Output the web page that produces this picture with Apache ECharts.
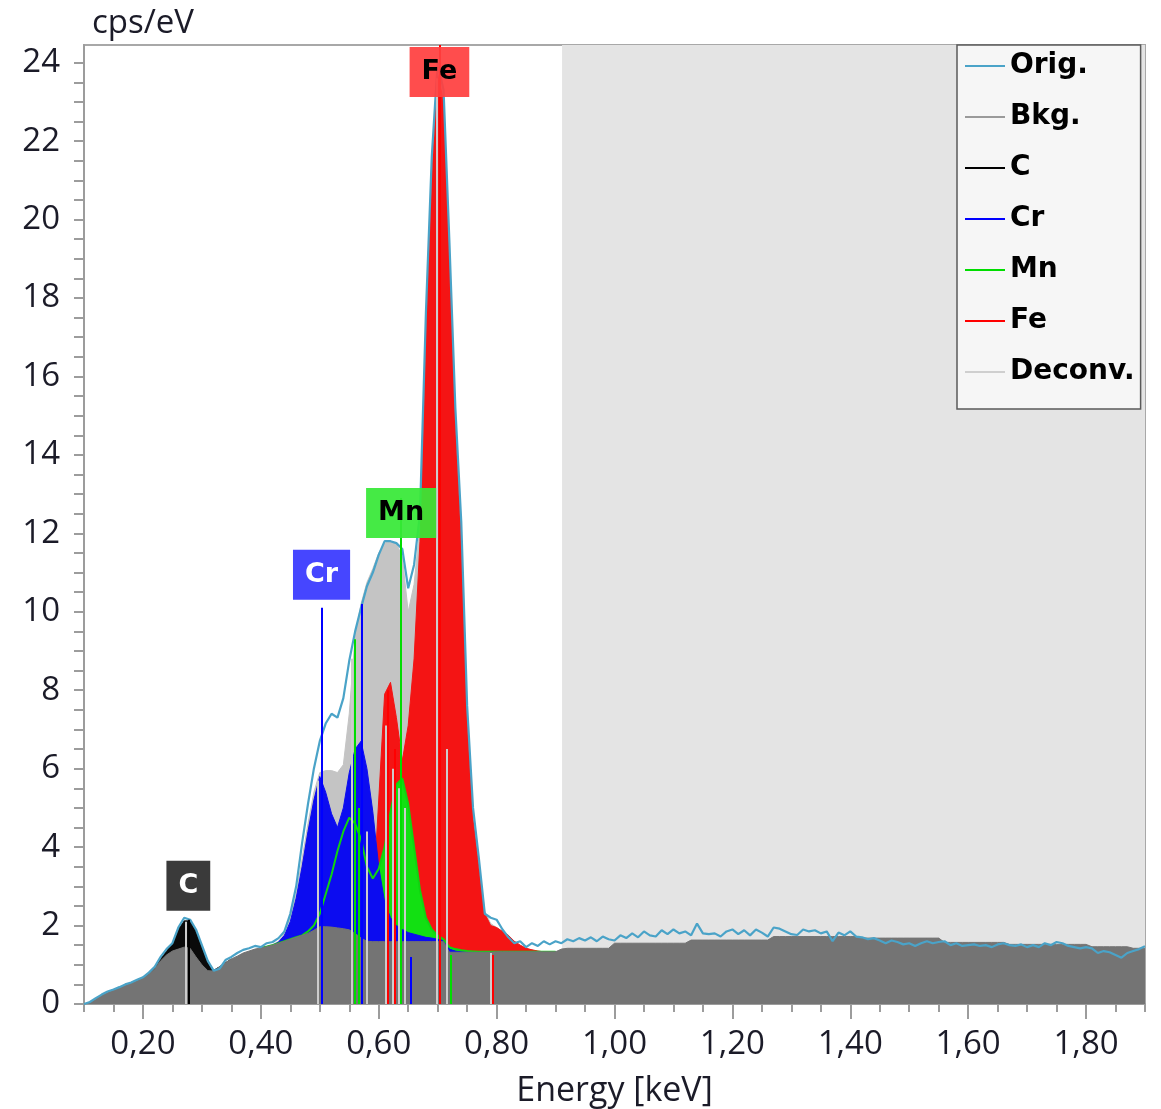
<!DOCTYPE html>
<html><head><meta charset="utf-8">
<script src="https://cdn.jsdelivr.net/npm/echarts@6/dist/echarts.min.js"></script>
<style>html,body{margin:0;padding:0;background:#fff}#chart{width:1161px;height:1109px}</style>
</head><body><div id="chart"></div>
<script>
// ---------- DATA ----------
// sampling grid (keV), 0.10 .. 1.90 step 0.01
const energy = [];
for (let i = 0; i <= 180; i++) energy.push(Math.round((0.10 + i * 0.01) * 100) / 100);

// measured spectrum (cps/eV)
const orig = [
  0.0,0.05,0.15,0.24,0.32,0.37,0.43,0.5,0.55,0.62,
  0.68,0.8,0.95,1.2,1.4,1.55,1.95,2.2,2.15,1.9,
  1.5,1.1,0.85,0.9,1.12,1.2,1.3,1.38,1.42,1.48,
  1.45,1.55,1.58,1.68,1.85,2.3,3.0,4.1,5.1,6.0,
  6.7,7.15,7.4,7.3,7.8,8.75,9.5,10.1,10.65,11.0,
  11.45,11.8,11.8,11.75,11.6,10.6,11.2,12.5,17.6,21.6,
  24.0,23.3,19.4,15.2,12.3,7.6,5.0,3.7,2.3,2.2,
  2.15,1.9,1.7,1.55,1.6,1.45,1.55,1.48,1.6,1.52,
  1.6,
  1.55,1.65,1.6,1.68,1.62,1.7,1.6,1.72,1.65,
  1.62,1.75,1.68,1.8,1.7,1.85,1.75,1.72,1.88,1.78,
  1.9,1.8,1.85,1.75,2.05,1.8,1.78,1.8,1.72,1.85,
  1.9,1.78,1.88,1.75,1.9,1.82,1.72,1.95,1.92,1.85,
  1.78,1.76,1.9,1.85,1.88,1.8,1.85,1.6,1.82,1.75,
  1.85,1.72,1.7,1.65,1.68,1.62,1.55,1.62,1.58,1.52,
  1.55,1.48,1.55,1.6,1.55,1.58,1.6,1.5,1.55,1.48,
  1.5,1.52,1.48,1.5,1.45,1.52,1.55,1.5,1.48,1.52,
  1.45,1.5,1.45,1.55,1.5,1.58,1.55,1.48,1.45,1.42,
  1.45,1.42,1.3,1.35,1.32,1.25,1.18,1.3,1.35,1.4,1.47
];

// background
const bkg = [
  0,0.05,0.13,0.22,0.3,0.36,0.42,0.48,0.54,0.6,
  0.66,0.76,0.9,1.1,1.25,1.35,1.4,1.45,1.42,1.2,
  1.0,0.85,0.84,0.95,1.05,1.15,1.22,1.3,1.35,1.4,
  1.43,1.46,1.5,1.55,1.6,1.65,1.7,1.75,1.8,1.88,
  1.97,1.97,1.96,1.94,1.92,1.89,1.8,1.68,1.6,1.59,
  1.59,1.59,1.59,1.59,1.59,1.59,1.59,1.59,1.59,1.59,
  1.59,1.59,1.32,1.32,1.32,1.32,1.32,1.32,1.32,1.32,
  1.33,1.33,1.33,1.33,1.33,1.33,1.33,1.33,1.33,1.33,
  1.33,
  1.4,1.42,1.42,1.42,1.42,1.42,1.42,1.42,1.42,
  1.55,1.55,1.55,1.55,1.55,1.55,1.55,1.55,1.55,1.55,
  1.55,1.55,1.55,1.63,1.63,1.63,1.63,1.63,1.63,1.63,
  1.63,1.63,1.63,1.63,1.63,1.63,1.63,1.72,1.72,1.72,
  1.72,1.72,1.72,1.72,1.72,1.72,1.72,1.72,1.72,1.72,
  1.72,1.72,1.68,1.68,1.68,1.68,1.68,1.68,1.68,1.68,
  1.68,1.68,1.68,1.68,1.68,1.68,1.57,1.57,1.57,1.57,
  1.57,1.57,1.57,1.57,1.57,1.57,1.57,1.52,1.52,1.52,
  1.52,1.52,1.52,1.52,1.52,1.52,1.52,1.52,1.52,1.52,
  1.52,1.46,1.46,1.46,1.46,1.46,1.46,1.46,1.42,1.42,1.42
];

// element fits (bkg + element), on 0.40 .. 0.90
const elemEnergy = energy.filter(e => e >= 0.40 && e <= 0.90);
const deconv = [
  1.45,1.48,1.52,1.6,1.8,2.2,2.8,3.7,4.6,5.4,
  5.9,5.95,5.95,5.9,6.1,7.4,9.4,10.2,10.75,11.1,
  11.5,11.75,11.8,11.75,11.4,10.0,10.7,12.2,17.3,21.3,
  23.8,23.1,19.2,14.9,11.9,7.3,4.8,3.5,2.35,2.05,
  1.95,1.85,1.75,1.6,1.5,1.42,1.38,1.35,1.33,1.33,1.33
];
const crTotal = [
  1.43,1.46,1.5,1.58,1.75,2.1,2.7,3.5,4.4,5.2,
  5.8,5.4,4.85,4.5,5.0,5.9,6.5,6.7,6.0,4.9,
  3.5,2.6,2.2,2.0,1.9,1.82,1.78,1.74,1.7,1.68,
  1.65,1.62,1.4,1.35,1.33,1.33,1.33,1.33,1.33,1.33,
  1.33,1.33,1.33,1.33,1.33,1.33,1.33,1.33,1.33,1.33,1.33
];
const mnTotal = [
  1.43,1.46,1.5,1.55,1.6,1.65,1.7,1.75,1.85,2.0,
  2.3,2.8,3.3,3.9,4.4,4.75,4.6,4.2,3.5,3.2,
  3.45,4.0,4.9,5.6,5.75,5.1,4.0,2.9,2.2,1.9,
  1.75,1.65,1.45,1.4,1.37,1.35,1.34,1.33,1.33,1.33,
  1.33,1.33,1.33,1.33,1.33,1.33,1.33,1.33,1.33,1.33,1.33
];
const feTotal = [
  1.43,1.46,1.5,1.55,1.6,1.65,1.7,1.75,1.8,1.88,
  1.97,1.97,1.96,1.94,1.92,1.89,1.8,1.68,1.6,2.6,
  5.2,7.9,8.2,7.3,6.2,7.1,8.8,11.8,17.0,21.1,
  23.7,23.0,19.1,14.8,11.8,7.2,4.7,3.45,2.3,2.0,
  1.95,1.85,1.75,1.6,1.5,1.42,1.38,1.35,1.33,1.33,1.33
];
// carbon fit (bkg + C), on 0.20 .. 0.35
const cEnergy = energy.filter(e => e >= 0.20 && e <= 0.35);
const cTotal = [0.66,0.76,0.92,1.15,1.35,1.55,1.9,2.12,2.12,1.85,1.45,1.05,0.86,0.95,1.05,1.15];

// line markers
const markerEnergy  = [0.272,0.277,0.497,0.503,0.554,0.559,0.566,0.572,0.580,0.612,0.616,0.624,0.627,0.634,0.638,0.644,0.654,0.699,0.703,0.716,0.722,0.790,0.794];
const markerHeight  = [2.1, 2.15, 5.7, 10.1, 8.8, 9.3, 5.0, 10.2, 4.4, 7.1, 8.0, 6.0, 6.5, 5.5, 12.9, 5.0, 1.2, 23.6, 24.45, 6.5, 1.25, 1.3, 1.25];
const markerElement = ['Deconv.','C','Deconv.','Cr','Deconv.','Mn','Mn','Cr','Deconv.','Deconv.','Fe','Deconv.','Fe','Deconv.','Mn','Deconv.','Cr','Deconv.','Fe','Deconv.','Mn','Deconv.','Fe'];

// element tags
const peakNames  = ['C','Cr','Mn','Fe'];
const peakEnergy = [0.277,0.503,0.638,0.703];
const peakHeight = [2.15,10.1,12.9,24.45];

// axis ticks
const xLabelValues = [0.2,0.4,0.6,0.8,1.0,1.2,1.4,1.6,1.8];
const yLabelValues = [0,2,4,6,8,10,12,14,16,18,20,22,24];
const quantRegionStart = 0.911;

// ---------- STYLE ----------
const colors = {
  'Orig.':'#4aa3c8','Bkg.':'#747474','BkgLegend':'#9a9a9a','C':'#0a0a0a','Cr':'#0c0cf0',
  'Mn':'#12e012','Fe':'#f41414','Deconv.':'#c4c4c4','DeconvLegend':'#cfcfcf'
};
const markerColors = {'Deconv.':'#cccccc','C':'#000000','Cr':'#0000ff','Mn':'#00dd00','Fe':'#ff0000'};
const tagStyle = {
  'C':  {bg:'#3a3a3a', fg:'#ffffff', position:'top', distance:8},
  'Cr': {bg:'#4646ff', fg:'#ffffff', position:'top', distance:7},
  'Mn': {bg:'rgba(55,232,55,0.93)', fg:'#000000', position:'inside', offset:[0,15]},
  'Fe': {bg:'rgba(255,64,64,0.93)', fg:'#000000', position:'inside', offset:[0,27]}
};
const txt = '#1b1b28';
const pair = (xs, ys) => xs.map((x, i) => [x, ys[i]]);
const minorTicks = [];
for (let i = 0; i <= 36; i++) minorTicks.push(Math.round((0.10 + i * 0.05) * 100) / 100);
const yTicks = [];
for (let i = 0; i <= 48; i++) yTicks.push(i * 0.5);

function areaSeries(name, data, color, z) {
  return {
    name, type:'line', data, z, showSymbol:false, symbol:'none',
    lineStyle:{color, width:1}, itemStyle:{color}, areaStyle:{color, opacity:1},
    emphasis:{disabled:true}, silent:true
  };
}

const chart = echarts.init(document.getElementById('chart'), null, {renderer:'canvas'});
chart.setOption({
  animation:false,
  backgroundColor:'#ffffff',
  grid:{left:84, right:16, top:45, bottom:105, containLabel:false, outerBoundsMode:'none',
    show:true, borderColor:'#a8a8a8', borderWidth:2, backgroundColor:'#ffffff'},
  legend:{
    left:957, top:45, orient:'vertical', selectedMode:false,
    icon:'rect', itemWidth:40, itemHeight:2, itemGap:21,
    padding:[6,6,22,8],
    backgroundColor:'#f6f6f6', borderColor:'#5a5a5a', borderWidth:1.5, borderRadius:0,
    textStyle:{fontFamily:'DejaVu Sans', fontWeight:'bold', fontSize:28, lineHeight:30, color:'#000'},
    data:[
      {name:'Orig.', itemStyle:{color:colors['Orig.']}},
      {name:'Bkg.', itemStyle:{color:colors['BkgLegend']}},
      {name:'C', itemStyle:{color:'#000'}},
      {name:'Cr', itemStyle:{color:'#0000ff'}},
      {name:'Mn', itemStyle:{color:'#00dd00'}},
      {name:'Fe', itemStyle:{color:'#ff0000'}},
      {name:'Deconv.', itemStyle:{color:colors['DeconvLegend']}}
    ]
  },
  xAxis:[{
    type:'value', min:0.1, max:1.9,
    name:'Energy [keV]', nameLocation:'middle', nameGap:70,
    nameTextStyle:{fontFamily:'Open Sans', fontSize:34, color:txt},
    axisLine:{show:true, onZero:false, lineStyle:{color:'#9c9c9c', width:2}},
    axisTick:{show:true, length:15, customValues:xLabelValues, lineStyle:{color:'#9c9c9c', width:2}},
    axisLabel:{customValues:xLabelValues, margin:24, fontFamily:'Open Sans', fontSize:33, color:txt,
      formatter:v => v.toFixed(2).replace('.', ',')},
    splitLine:{show:false}
  },{
    type:'value', min:0.1, max:1.9, position:'bottom',
    axisLine:{show:false}, axisLabel:{show:false}, splitLine:{show:false},
    axisTick:{show:true, length:8, customValues:minorTicks, lineStyle:{color:'#9c9c9c', width:2}}
  }],
  yAxis:{
    type:'value', min:0, max:24.45,
    name:'cps/eV', nameLocation:'end', nameGap:21,
    nameTextStyle:{fontFamily:'Open Sans', fontSize:33, color:txt, align:'left', verticalAlign:'middle', padding:[0,0,0,8]},
    axisLine:{show:true, lineStyle:{color:'#9c9c9c', width:2}},
    axisTick:{show:true, length:10, customValues:yTicks, lineStyle:{color:'#9c9c9c', width:2}},
    axisLabel:{customValues:yLabelValues, margin:24, fontFamily:'Open Sans', fontSize:33, color:txt},
    splitLine:{show:false}
  },
  series:[
    {
      name:'region', type:'line', data:[[0.1,0]], z:1, showSymbol:false, lineStyle:{opacity:0}, silent:true,
      markArea:{silent:true, z:0, itemStyle:{color:'#e4e4e4', opacity:1},
        data:[[{xAxis:quantRegionStart},{xAxis:1.9}]]}
    },
    areaSeries('Deconv.', pair(elemEnergy, deconv), colors['Deconv.'], 2),
    areaSeries('Fe', pair(elemEnergy, feTotal), colors['Fe'], 3),
    Object.assign(areaSeries('Mn', pair(elemEnergy, mnTotal), colors['Mn'], 4), {lineStyle:{width:0, color:colors['Mn']}}),
    areaSeries('Cr', pair(elemEnergy, crTotal), colors['Cr'], 5),
    areaSeries('C', pair(cEnergy, cTotal), colors['C'], 6),
    {name:'Mn line', type:'line', data:pair(elemEnergy, mnTotal), z:7, showSymbol:false, symbol:'none',
      lineStyle:{color:'#10d410', width:2}, silent:true},
    areaSeries('Bkg.', pair(energy, bkg), colors['Bkg.'], 8),
    {name:'Orig.', type:'line', data:pair(energy, orig), z:9, showSymbol:false, symbol:'none',
      lineStyle:{color:colors['Orig.'], width:2.2}, itemStyle:{color:colors['Orig.']}, silent:true},
    {
      name:'markers', type:'line', data:[], z:10, silent:true,
      markLine:{
        silent:true, z:20, symbol:['none','none'], animation:false,
        label:{show:false}, lineStyle:{type:'solid', width:2},
        emphasis:{disabled:true},
        data: markerEnergy.map((e, i) => [
          {coord:[e, 0], lineStyle:{color:markerColors[markerElement[i]], type:'solid', width:2}},
          {coord:[e, markerHeight[i]]}
        ])
      }
    },
    {
      name:'tags', type:'scatter', z:30, silent:true, symbolSize:2,
      itemStyle:{color:'rgba(0,0,0,0)', opacity:1},
      data: peakNames.map((n, i) => {
        const s = tagStyle[n];
        return {
          value:[peakEnergy[i], peakHeight[i]],
          itemStyle:{opacity:1},
          label:{
            show:true, opacity:1, formatter:n, position:s.position, distance:s.distance || 0, offset:s.offset || [0,0],
            backgroundColor:s.bg, color:s.fg, padding:[10,12],
            fontFamily:'DejaVu Sans', fontWeight:'bold', fontSize:27, lineHeight:30
          }
        };
      })
    }
  ]
});
</script>
</body></html>
